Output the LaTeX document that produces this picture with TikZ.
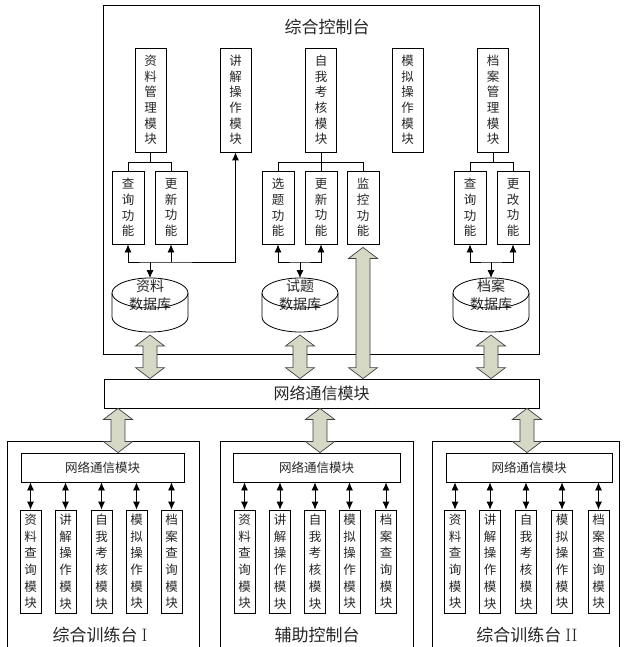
\documentclass[tikz,border=0pt]{standalone}
\usepackage{fontspec}
\newfontfamily\cjk{Noto Sans CJK SC}
\usetikzlibrary{arrows.meta,calc}
\definecolor{fatc}{RGB}{212,216,196}
\newcommand\fatarr[2]{\draw[fat] (#1) -- ++(14.5,11) -- ++(-7.5,0) -- ($(#2)+(7,-11)$) -- ++(7.5,0) -- (#2) -- ++(-14.5,-11) -- ++(7.5,0) -- ($(#1)+(-7,11)$) -- ++(-7.5,0) -- cycle;}
\newcommand\cyl[1]{\draw[line,fill=white] ($(#1)+(-38,-2)$) -- ($(#1)+(-38,22)$) arc[start angle=180,end angle=0,x radius=38,y radius=15] -- ($(#1)+(38,-2)$);
  \draw[line,fill=white] ($(#1)+(0,-2)$) ellipse[x radius=38,y radius=15];}
\begin{document}
\begin{tikzpicture}[x=1pt,y=-1pt,
  line/.style={line width=0.8pt,draw=black},
  box/.style={line, inner sep=0pt, align=center, text=black!85},
  vmod/.style={box, minimum width=31, minimum height=104, font=\cjk\fontsize{12.5}{15.6}\selectfont},
  fun/.style={box, minimum width=32, minimum height=73, font=\cjk\fontsize{12.5}{15.6}\selectfont},
  leaf/.style={box, minimum width=21, minimum height=103, font=\cjk\fontsize{12.5}{16.7}\selectfont},
  netb/.style={box, minimum height=29, font=\cjk\fontsize{12.5}{12.5}\selectfont},
  dbt/.style={inner sep=0pt, align=center, text=black!85, font=\cjk\fontsize{14}{18}\selectfont},
  ttl/.style={inner sep=0pt, text=black!85, font=\cjk\fontsize{17}{17}\selectfont},
  tip/.style={line, -{Latex[length=8pt,width=7pt]}},
  rtip/.style={line, {Latex[length=8pt,width=7pt]}-},
  both/.style={line, {Latex[length=8pt,width=7pt]}-{Latex[length=8pt,width=7pt]}},
  fat/.style={draw=black!75, fill=fatc, line width=0.7pt, line join=miter}]
\useasboundingbox (0,0) rectangle (623,647);

% ---------- top console ----------
\node[box, minimum width=436, minimum height=349] (top) at (321,179.5) {};
\node[ttl] (title) at (327,27) {综合控制台};

\node[vmod] (m1) at (150.5,100) {资\\料\\管\\理\\模\\块};
\node[vmod] (m2) at (235.5,100) {讲\\解\\操\\作\\模\\块};
\node[vmod] (m3) at (321,100) {自\\我\\考\\核\\模\\块};
\node[vmod] (m4) at (407.5,100) {模\\拟\\操\\作\\模\\块};
\node[vmod] (m5) at (493,100) {档\\案\\管\\理\\模\\块};

\node[fun] (f1) at (128,207.5) {查\\询\\功\\能};
\node[fun] (f2) at (171,207.5) {更\\新\\功\\能};
\node[fun] (f3) at (278,207.5) {选\\题\\功\\能};
\node[fun] (f4) at (321,207.5) {更\\新\\功\\能};
\node[fun] (f5) at (363,207.5) {监\\控\\功\\能};
\node[fun] (f6) at (470,207.5) {查\\询\\功\\能};
\node[fun] (f7) at (513,207.5) {更\\改\\功\\能};

% tree lines
\draw[line] (m1.south) -- ++(0,10) coordinate (t1);
\draw[line] (f1.north) |- (t1) -| (f2.north);
\draw[line] (m3.south) -- (f4.north);
\coordinate (t3) at ($(m3.south)+(0,10)$);
\draw[line] (f3.north) |- (t3) -| (f5.north);
\draw[line] (m5.south) -- ++(0,10) coordinate (t5);
\draw[line] (f6.north) |- (t5) -| (f7.north);

% databases
\coordinate (c1) at (150,295);
\coordinate (c2) at (300,295);
\coordinate (c3) at (491,295);
\cyl{c1}\cyl{c2}\cyl{c3}
\node[dbt] (db1) at (c1) {资料\\数据库};
\node[dbt] (db2) at (c2) {试题\\数据库};
\node[dbt] (db3) at (c3) {档案\\数据库};
\coordinate (d1) at ($(c1)+(0,-17)$);
\coordinate (d2) at ($(c2)+(0,-17)$);
\coordinate (d3) at ($(c3)+(0,-17)$);
\coordinate (j1) at ($(c1)+(0,-33)$);
\coordinate (j2) at ($(c2)+(0,-33)$);
\coordinate (j3) at ($(c3)+(0,-33)$);

\draw[both] (f1.south) |- (j1) -| (m2.south);
\draw[rtip] (f2.south) -- (f2.south |- j1);
\draw[tip] (j1) -- (d1);
\draw[both] (f3.south) |- (j2) -| (f4.south);
\draw[tip] (j2) -- (d2);
\draw[both] (f6.south) |- (j3) -| (f7.south);
\draw[tip] (j3) -- (d3);

% ---------- network module ----------
\node[box, minimum width=435, minimum height=29, font=\cjk\fontsize{16}{16}\selectfont] (net) at (321.5,393.5) {网络通信模块};

\coordinate (a1t) at ($(c1)+(0,40)$);
\coordinate (a2t) at ($(c2)+(0,40)$);
\coordinate (a3t) at ($(f5.south)+(0,3)$);
\coordinate (a4t) at ($(c3)+(0,40)$);
\coordinate (a1b) at (a1t |- net.north);
\coordinate (a2b) at (a2t |- net.north);
\coordinate (a3b) at (a3t |- net.north);
\coordinate (a4b) at (a4t |- net.north);
\fatarr{a1t}{a1b}
\fatarr{a2t}{a2b}
\fatarr{a3t}{a3b}
\fatarr{a4t}{a4b}

% ---------- bottom stations ----------
\draw[line] (7,647) |- (199,441) -- (199,647);
\draw[line] (220,647) |- (413,441) -- (413,647);
\draw[line] (432,647) |- (619,441) -- (619,647);

\node[netb, minimum width=163] (n1) at (102.5,467.5) {网络通信模块};
\node[netb, minimum width=167] (n2) at (316.5,467.5) {网络通信模块};
\node[netb, minimum width=166] (n3) at (529,467.5) {网络通信模块};

\coordinate (b1) at (118,0);
\coordinate (b2) at (320,0);
\coordinate (b3) at (527,0);
\coordinate (b1t) at (net.south -| b1);
\coordinate (b2t) at (net.south -| b2);
\coordinate (b3t) at (net.south -| b3);
\coordinate (b1b) at (n1.north -| b1);
\coordinate (b2b) at (n2.north -| b2);
\coordinate (b3b) at (n3.north -| b3);
\fatarr{b1t}{b1b}
\fatarr{b2t}{b2b}
\fatarr{b3t}{b3b}

% leaves box 1
\node[leaf] (l11) at (30.5,561.5) {资\\料\\查\\询\\模\\块};
\node[leaf] (l12) at (65.5,561.5) {讲\\解\\操\\作\\模\\块};
\node[leaf] (l13) at (101.5,561.5) {自\\我\\考\\核\\模\\块};
\node[leaf] (l14) at (136.5,561.5) {模\\拟\\操\\作\\模\\块};
\node[leaf] (l15) at (171.5,561.5) {档\\案\\查\\询\\模\\块};
% leaves box 2
\node[leaf] (l21) at (244.5,561.5) {资\\料\\查\\询\\模\\块};
\node[leaf] (l22) at (280,561.5) {讲\\解\\操\\作\\模\\块};
\node[leaf] (l23) at (315,561.5) {自\\我\\考\\核\\模\\块};
\node[leaf] (l24) at (349.5,561.5) {模\\拟\\操\\作\\模\\块};
\node[leaf] (l25) at (386,561.5) {档\\案\\查\\询\\模\\块};
% leaves box 3
\node[leaf] (l31) at (455,561.5) {资\\料\\查\\询\\模\\块};
\node[leaf] (l32) at (490,561.5) {讲\\解\\操\\作\\模\\块};
\node[leaf] (l33) at (526,561.5) {自\\我\\考\\核\\模\\块};
\node[leaf] (l34) at (562,561.5) {模\\拟\\操\\作\\模\\块};
\node[leaf] (l35) at (598.5,561.5) {档\\案\\查\\询\\模\\块};

\foreach \b in {1,2,3}{
  \foreach \k in {1,...,5}{
    \draw[both] (l\b\k.north |- n\b.south) -- (l\b\k.north);
  }
}

\node[ttl] (s1) at (100,635) {综合训练台\hspace{4pt}{\rmfamily\fontsize{18}{18}\selectfont I}};
\node[ttl] (s2) at (317,635) {辅助控制台};
\node[ttl] (s3) at (527,635) {综合训练台\hspace{4pt}{\rmfamily\fontsize{18}{18}\selectfont II}};
\end{tikzpicture}
\end{document}
